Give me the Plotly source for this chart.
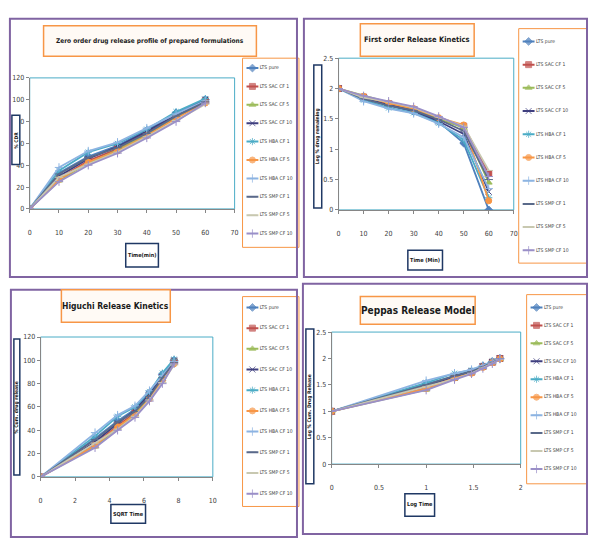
import plotly.graph_objects as go

W, H = 592, 541

series_names = ["LTS pure", "LTS SAC CF 1", "LTS SAC CF 5", "LTS SAC CF 10",
                "LTS HBA CF 1", "LTS HBA CF 5", "LTS HBA CF 10",
                "LTS SMP CF 1", "LTS SMP CF 5", "LTS SMP CF 10"]
series_colors = ["#4F81BD", "#C0504D", "#9BBB59", "#3F3F7F", "#4BACC6",
                 "#F79646", "#8DB4E2", "#5A6A8A", "#C8C8B0", "#9A8FC8"]
series_symbols = ["diamond", "square", "triangle-up", "x-thin", "asterisk",
                  "circle", "cross-thin", "line-ew", "line-ew", "cross-thin"]

# Zero order: time (min) vs cumulative % drug release
time_min = [0, 10, 20, 30, 40, 50, 60]
zero_order = [
    [0, 33, 48, 58, 72, 88, 100],
    [0, 28, 44, 55, 70, 85, 99],
    [0, 26, 42, 54, 68, 84, 98],
    [0, 30, 46, 57, 71, 86, 100],
    [0, 35, 52, 60, 73, 89, 101],
    [0, 27, 43, 53, 67, 83, 97],
    [0, 38, 53, 61, 74, 87, 99],
    [0, 32, 47, 56, 69, 85, 98],
    [0, 29, 41, 52, 66, 81, 96],
    [0, 25, 40, 51, 65, 80, 97],
]

# First order: time (min) vs log % drug remaining
first_order = [
    [2.0, 1.83, 1.72, 1.62, 1.45, 1.10, 0.00],
    [2.0, 1.86, 1.75, 1.65, 1.48, 1.38, 0.60],
    [2.0, 1.88, 1.77, 1.66, 1.50, 1.35, 0.45],
    [2.0, 1.84, 1.73, 1.63, 1.46, 1.25, 0.30],
    [2.0, 1.81, 1.68, 1.60, 1.43, 1.15, 0.20],
    [2.0, 1.87, 1.76, 1.67, 1.52, 1.40, 0.15],
    [2.0, 1.79, 1.67, 1.59, 1.42, 1.20, 0.35],
    [2.0, 1.83, 1.72, 1.64, 1.49, 1.30, 0.50],
    [2.0, 1.85, 1.78, 1.69, 1.53, 1.38, 0.65],
    [2.0, 1.88, 1.79, 1.70, 1.54, 1.36, 0.55],
]

# Higuchi: sqrt time vs cumulative % drug release
sqrt_time = [0, 3.16, 4.47, 5.48, 6.32, 7.07, 7.75]
higuchi = zero_order

# Peppas: log time vs log % cumulative drug release
log_time = [0, 1.0, 1.30, 1.48, 1.60, 1.70, 1.78]
peppas = [
    [1.0, 1.52, 1.68, 1.76, 1.86, 1.94, 2.00],
    [1.0, 1.45, 1.64, 1.74, 1.85, 1.93, 2.00],
    [1.0, 1.41, 1.62, 1.73, 1.83, 1.92, 1.99],
    [1.0, 1.48, 1.66, 1.76, 1.85, 1.93, 2.00],
    [1.0, 1.54, 1.72, 1.78, 1.86, 1.95, 2.00],
    [1.0, 1.43, 1.63, 1.72, 1.83, 1.92, 1.99],
    [1.0, 1.58, 1.72, 1.79, 1.87, 1.94, 2.00],
    [1.0, 1.50, 1.67, 1.75, 1.84, 1.93, 1.99],
    [1.0, 1.46, 1.61, 1.72, 1.82, 1.91, 1.98],
    [1.0, 1.40, 1.60, 1.71, 1.81, 1.90, 1.99],
]

panel_titles = ["Zero order drug release profile of prepared formulations",
                "First order Release Kinetics",
                "Higuchi Release Kinetics",
                "Peppas Release Model"]
x_titles = ["Time(min)", "Time (Min)", "SQRT Time", "Log Time"]
y_titles = ["% CDR", "Log % drug remaining", "% Cum. drug release", "Log % Cum. Drug Release"]

FONT = "Liberation Sans Narrow, DejaVu Sans Condensed, Liberation Sans, sans-serif"

def px(x):
    return x / W

def py(y):
    return 1 - y / H

# panel geometry (pixels)
panels = [
    dict(plot=(28, 235, 75, 208), xr=[0, 70], xd=10, yr=[0, 120], yd=20,
         frame=(8, 298, 15, 277), title=(42, 257, 22, 53, 6.5),
         legend=(243, 300, 55, 247, 65, 233), xt=(125, 158, 243, 267), yt=(10, 18, 113, 163)),
    dict(plot=(340, 517, 55, 209), xr=[0, 70], xd=10, yr=[0, 2.5], yd=0.5,
         frame=(305, 591, 15, 277), title=(362, 477, 20, 53, 7.5),
         legend=(522, 591, 25, 263, 38, 250), xt=(410, 445, 250, 270), yt=(315, 323, 62, 207)),
    dict(plot=(39, 213, 338, 480), xr=[0, 10], xd=2, yr=[0, 120], yd=20,
         frame=(9, 298, 290, 541), title=(60, 170, 290, 323, 8.5),
         legend=(243, 300, 297, 510, 308, 497), xt=(110, 145, 508, 527), yt=(12, 18, 340, 478)),
    dict(plot=(333, 524, 333, 467), xr=[0, 2], xd=0.5, yr=[0, 2.5], yd=0.5,
         frame=(304, 591, 284, 538), title=(362, 478, 297, 325, 10),
         legend=(530, 591, 295, 487, 308, 472), xt=(407, 437, 497, 520), yt=(307, 315, 330, 487)),
]

datasets = [(time_min, zero_order), (time_min, first_order),
            (sqrt_time, higuchi), (log_time, peppas)]

fig = go.Figure()
shapes = []
annotations = []
layout = dict(width=W, height=H, margin=dict(l=0, r=0, t=0, b=0),
              paper_bgcolor="white", plot_bgcolor="rgba(0,0,0,0)", autosize=False,
              showlegend=False, hovermode=False,
              font=dict(family=FONT, size=7, color="#404040"))


def box(x0, x1, y0, y1, color, fill, width=1.5, layer="above"):
    shapes.append(dict(type="rect", xref="paper", yref="paper",
                       x0=px(x0), x1=px(x1), y0=py(y1), y1=py(y0),
                       line=dict(color=color, width=width), fillcolor=fill,
                       layer=layer))


for i, (p, (xs, ys)) in enumerate(zip(panels, datasets)):
    n = "" if i == 0 else str(i + 1)
    x0, x1, y0, y1 = p["plot"]
    layout["xaxis" + n] = dict(domain=[px(x0), px(x1)], range=p["xr"], dtick=p["xd"],
                              anchor="y" + n, showgrid=False, zeroline=False,
                              showline=True, linecolor="#868686", linewidth=1,
                              ticks="outside", ticklen=3, tickcolor="#868686",
                              ticklabelstandoff=14,
                              tickfont=dict(size=7, color="#404040"))
    layout["yaxis" + n] = dict(domain=[py(y1), py(y0)], range=p["yr"], dtick=p["yd"],
                              anchor="x" + n, showgrid=False, zeroline=False,
                              showline=True, linecolor="#868686", linewidth=1,
                              ticks="outside", ticklen=3, tickcolor="#868686",
                              tickfont=dict(size=7, color="#404040"))
    for k in range(10):
        fig.add_trace(go.Scatter(
            x=xs, y=ys[k], name=series_names[k], mode="lines+markers",
            line=dict(color=series_colors[k], width=1.8),
            marker=dict(symbol=series_symbols[k], size=6, color=series_colors[k],
                        line=dict(color=series_colors[k], width=1)),
            xaxis="x" + n, yaxis="y" + n))

    # legend (drawn in its own axes so that it can be as compact as the original)
    lx0, lx1, ly0, ly1, first, last = p["legend"]
    box(lx0, lx1, ly0, ly1, "#F79646", "white", width=1, layer="below")
    m = str(5 + i)
    s = 9.0 / (last - first)
    top = 1 - (first - ly0) * s
    bottom = top + (ly1 - ly0) * s
    layout["xaxis" + m] = dict(domain=[px(lx0), px(lx1)], range=[0, lx1 - lx0],
                              anchor="y" + m, visible=False, fixedrange=True)
    layout["yaxis" + m] = dict(domain=[py(ly1), py(ly0)], range=[bottom, top],
                              anchor="x" + m, visible=False, fixedrange=True)
    for k in range(10):
        fig.add_trace(go.Scatter(
            x=[4, 10, 16], y=[k + 1, k + 1, k + 1],
            mode="lines+markers+text", text=["", "", " " + series_names[k]],
            textposition="middle right", cliponaxis=False,
            textfont=dict(size=5, color="#404040", family=FONT),
            line=dict(color=series_colors[k], width=2),
            marker=dict(symbol=series_symbols[k], size=[0, 6, 0], color=series_colors[k],
                        line=dict(color=series_colors[k], width=1)),
            xaxis="x" + m, yaxis="y" + m, name=series_names[k]))

    # plot area border
    shapes.append(dict(type="rect", xref="x" + n + " domain", yref="y" + n + " domain",
                       x0=0, x1=1, y0=0, y1=1, line=dict(color="#4BACC6", width=1),
                       layer="below"))
    # panel frame
    fx0, fx1, fy0, fy1 = p["frame"]
    shapes.append(dict(type="rect", xref="paper", yref="paper",
                       x0=px(fx0), x1=px(fx1), y0=py(fy1), y1=py(fy0),
                       line=dict(color="#8064A2", width=2), layer="below"))
    # title box
    tx0, tx1, ty0, ty1, tsize = p["title"]
    box(tx0, tx1, ty0, ty1, "#F79646", "#FFFAF5")
    annotations.append(dict(xref="paper", yref="paper", x=px((tx0 + tx1) / 2),
                            y=py((ty0 + ty1) / 2), xanchor="center", yanchor="middle",
                            text="<b>" + panel_titles[i] + "</b>", showarrow=False,
                            font=dict(size=tsize, color="#1a1a1a", family=FONT)))
    # x title box
    ax0, ax1, ay0, ay1 = p["xt"]
    box(ax0, ax1, ay0, ay1, "#1F3864", "white")
    annotations.append(dict(xref="paper", yref="paper", x=px((ax0 + ax1) / 2),
                            y=py((ay0 + ay1) / 2), xanchor="center", yanchor="middle",
                            text="<b>" + x_titles[i] + "</b>", showarrow=False,
                            font=dict(size=5.5, color="#1a1a1a", family=FONT)))
    # y title box
    bx0, bx1, by0, by1 = p["yt"]
    box(bx0, bx1, by0, by1, "#1F3864", "white")
    annotations.append(dict(xref="paper", yref="paper", x=px((bx0 + bx1) / 2),
                            y=py((by0 + by1) / 2), xanchor="center", yanchor="middle",
                            text="<b>" + y_titles[i] + "</b>", showarrow=False,
                            textangle=-90,
                            font=dict(size=5, color="#1a1a1a", family=FONT)))

layout["shapes"] = shapes
layout["annotations"] = annotations
fig.update_layout(**layout)
fig.write_html("out.html")
